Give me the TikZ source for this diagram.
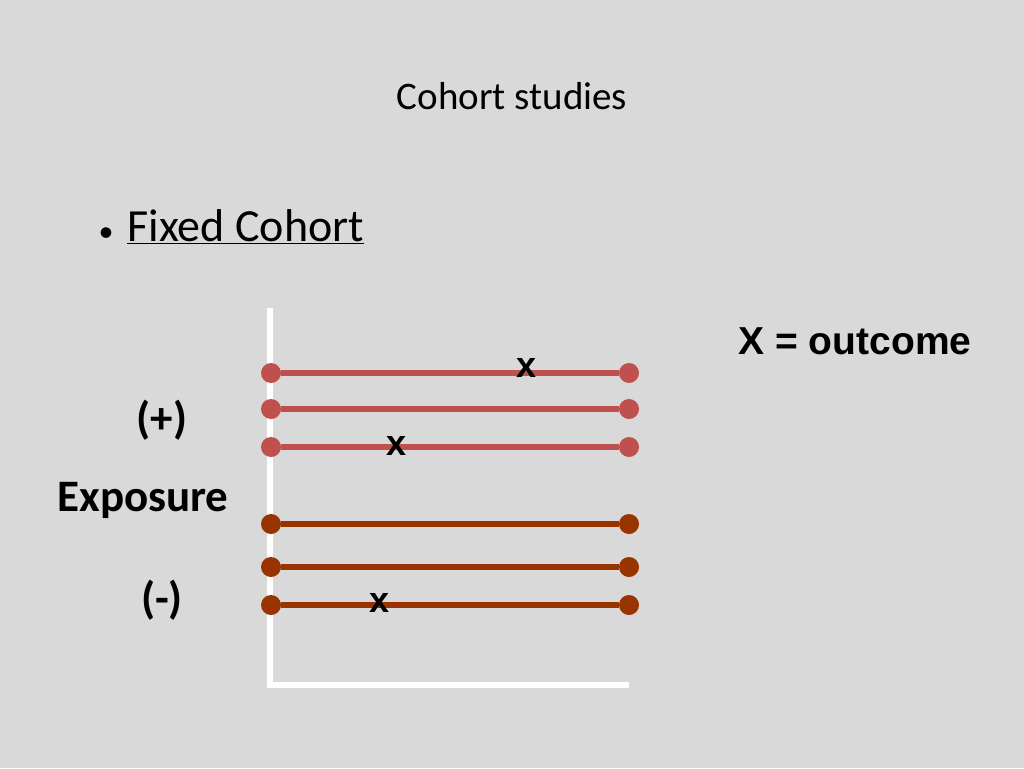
\documentclass[tikz,border=0pt]{standalone}
\usepackage{fontspec}
\setmainfont{Carlito}
\newfontfamily\arialf{Liberation Sans}
\definecolor{bg}{RGB}{217,217,217}
\definecolor{posred}{RGB}{192,80,77}
\definecolor{negbrown}{RGB}{153,51,0}
\begin{document}
\begin{tikzpicture}[x=1pt,y=-1pt,
  cline/.style={line width=6pt},
  dot/.style={circle,inner sep=0pt,minimum size=20pt},
  xmark/.style={font=\fontsize{36}{38}\selectfont\bfseries\arialf},
  lbl/.style={font=\fontsize{45}{48}\selectfont\bfseries}]
\fill[bg] (0,0) rectangle (1024,768);
\useasboundingbox (0,0) rectangle (1024,768);
\node (title) at (512,96) {\fontsize{39}{42}\selectfont Cohort studies};
\node[anchor=west] (bullet) at (95,227) {\fontsize{30}{44}\selectfont\textbullet\hspace{14pt}\fontsize{46}{50}\selectfont\underline{Fixed Cohort}};
\coordinate (top) at (270,308);
\coordinate (orig) at (270,685);
\coordinate (right) at (629,685);
\draw[white,line width=6pt] (top) -- (orig) -- (right);
\foreach \y/\c [count=\i] in {373/posred,409/posred,447/posred,524/negbrown,567/negbrown,605/negbrown}{
  \node[dot,fill=\c] (a\i) at (271,\y) {};
  \node[dot,fill=\c] (b\i) at (629,\y) {};
  \draw[cline,draw=\c] (a\i) -- (b\i);
}
\node[xmark] (x1) at (527,368) {x};
\node[xmark] (x2) at (397,446) {x};
\node[xmark] (x3) at (380,603) {x};
\node[lbl] (plus) at (162,420) {(+)};
\node[lbl] (expo) at (143,500) {Exposure};
\node[lbl] (minus) at (162,600) {(-)};
\node[font=\fontsize{39}{42}\selectfont\bfseries\arialf] (out) at (855,341) {X = outcome};
\end{tikzpicture}
\end{document}
